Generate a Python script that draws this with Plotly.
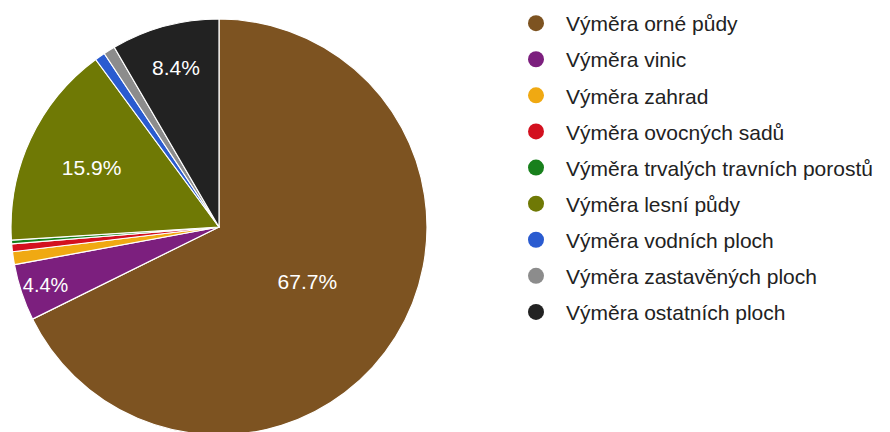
import plotly.graph_objects as go

categories = [
    "Výměra orné půdy",
    "Výměra vinic",
    "Výměra zahrad",
    "Výměra ovocných sadů",
    "Výměra trvalých travních porostů",
    "Výměra lesní půdy",
    "Výměra vodních ploch",
    "Výměra zastavěných ploch",
    "Výměra ostatních ploch",
]
values = [67.7, 4.4, 1.0, 0.6, 0.3, 15.9, 0.8, 0.9, 8.4]
colors = ["#7d5321", "#7c1f7e", "#f0a912", "#d3101f", "#18801c",
          "#6f7905", "#2a5bd0", "#8c8c8c", "#222222"]

total = sum(values)
texts = [f"{v / total * 100:.1f}%" if v / total >= 0.03 else "" for v in values]

W, H = 890, 432
cx, cy, r = 211, 219, 208

fig = go.Figure()
fig.add_trace(go.Pie(
    labels=categories,
    values=values,
    text=texts,
    textinfo="text",
    textposition="inside",
    insidetextorientation="horizontal",
    sort=False,
    direction="clockwise",
    rotation=0,
    marker=dict(colors=colors, line=dict(color="white", width=1.2)),
    textfont=dict(color="white", size=21, family="Arial, Liberation Sans, sans-serif"),
    showlegend=False,
    hoverinfo="label+percent",
    domain=dict(x=[(cx - r) / W, (cx + r) / W], y=[(H - cy - r) / H, (H - cy + r) / H]),
))

for i, (name, col) in enumerate(zip(categories, colors)):
    fig.add_trace(go.Scatter(
        x=[None], y=[None], mode="markers", name=name,
        legendgroup=f"g{i}",
        marker=dict(color=col, size=16, symbol="circle"),
        hoverinfo="skip",
    ))

fig.update_layout(
    width=W, height=H,
    margin=dict(l=0, r=0, t=0, b=0, autoexpand=False),
    paper_bgcolor="white", plot_bgcolor="white",
    xaxis=dict(visible=False), yaxis=dict(visible=False),
    font=dict(family="Arial, Liberation Sans, sans-serif", color="#222222"),
    legend=dict(
        x=498 / W, y=1 + 5 / H, xanchor="left", yanchor="top",
        font=dict(size=21, color="#222222"),
        itemwidth=50,
        tracegroupgap=5.8,
        traceorder="grouped",
        maxheight=430,
        bgcolor="rgba(0,0,0,0)",
    ),
)

fig.write_html("out.html")
